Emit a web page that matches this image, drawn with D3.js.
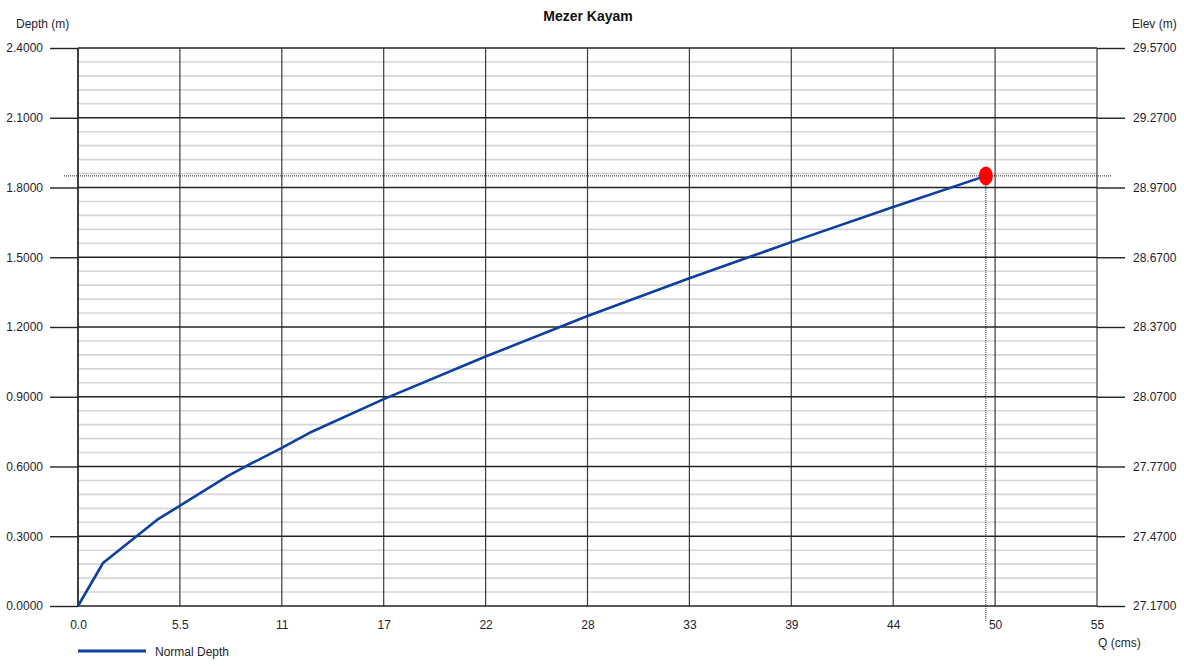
<!DOCTYPE html>
<html>
<head>
<meta charset="utf-8">
<script src="https://cdn.jsdelivr.net/npm/d3@7"></script>
<style>
  html, body { margin: 0; padding: 0; background: #fff; }
  svg { display: block; font-family: "Liberation Sans", Arial, sans-serif; }
</style>
</head>
<body>
<svg id="chart" width="1184" height="666"></svg>
<script>
// Rating curve: discharge Q (cms) vs. normal depth (m)
const flowQ     = [0, 1.35, 4.26, 8.1, 9.28, 11, 12.5, 16.5, 22, 27.5, 33, 38.5, 44, 49];
const normDepth = [0, 0.185, 0.37, 0.56, 0.61, 0.68, 0.745, 0.89, 1.073, 1.247, 1.41, 1.565, 1.716, 1.85];

// Current operating point
const pointQ = [49];
const pointDepth = [1.85];

// Axis tick values and labels
const xTickValues = [0, 5.5, 11, 16.5, 22, 27.5, 33, 38.5, 44, 49.5, 55];
const xTickLabels = ["0.0", "5.5", "11", "17", "22", "28", "33", "39", "44", "50", "55"];
const depthTicks  = [0, 0.3, 0.6, 0.9, 1.2, 1.5, 1.8, 2.1, 2.4];
const elevBase = 27.17;

(function draw() {
  const svg = d3.select("#chart");
  const pLeft = 78, pRight = 1097, pTop = 48, pBottom = 606;

  const x = d3.scaleLinear().domain([0, 55]).range([pLeft, pRight]);
  const y = d3.scaleLinear().domain([0, 2.4]).range([pBottom, pTop]);
  const yElev = d3.scaleLinear().domain([elevBase, elevBase + 2.4]).range([pBottom, pTop]);

  const textColor = "#1e1e2e";
  const font = "'Liberation Sans', Arial, sans-serif";

  // Minor horizontal grid
  const minor = d3.range(0, 2.4001, 0.06).filter(v => Math.abs(v / 0.3 - Math.round(v / 0.3)) > 1e-6);
  svg.append("g").selectAll("line").data(minor).join("line")
    .attr("x1", pLeft).attr("x2", pRight)
    .attr("y1", d => y(d)).attr("y2", d => y(d))
    .attr("stroke", "#d6d6d6").attr("stroke-width", 1.6);

  // Major vertical grid
  svg.append("g").selectAll("line").data(xTickValues).join("line")
    .attr("x1", d => x(d)).attr("x2", d => x(d))
    .attr("y1", pTop).attr("y2", pBottom)
    .attr("stroke", "#3a3a3a").attr("stroke-width", 1.2);

  // Left depth axis
  const yAxisL = d3.axisLeft(y).tickValues(depthTicks)
    .tickFormat(d3.format(".4f")).tickSize(pLeft - 50).tickPadding(7);
  const gL = svg.append("g").attr("transform", `translate(${pLeft},0)`).call(yAxisL);
  gL.select(".domain").remove();
  gL.selectAll(".tick line").attr("stroke", "#222").attr("stroke-width", 1.4);
  gL.selectAll(".tick text").attr("fill", textColor).style("font-size", "12px").style("font-family", font);

  // Major horizontal grid across the plot
  svg.append("g").selectAll("line").data(depthTicks).join("line")
    .attr("x1", pLeft).attr("x2", pRight)
    .attr("y1", d => y(d)).attr("y2", d => y(d))
    .attr("stroke", "#222").attr("stroke-width", 1.4);

  // Right elevation axis
  const elevTicks = depthTicks.map(d => elevBase + d);
  const yAxisR = d3.axisRight(yElev).tickValues(elevTicks)
    .tickFormat(d3.format(".4f")).tickSize(1125 - pRight).tickPadding(8);
  const gR = svg.append("g").attr("transform", `translate(${pRight},0)`).call(yAxisR);
  gR.select(".domain").remove();
  gR.selectAll(".tick line").attr("stroke", "#222").attr("stroke-width", 1.4);
  gR.selectAll(".tick text").attr("fill", textColor).style("font-size", "12px").style("font-family", font);

  // Bottom Q axis (labels only)
  const xAxis = d3.axisBottom(x).tickValues(xTickValues)
    .tickFormat((d, i) => xTickLabels[i]).tickSize(0).tickPadding(14);
  const gX = svg.append("g").attr("transform", `translate(0,${pBottom})`).call(xAxis);
  gX.select(".domain").remove();
  gX.selectAll(".tick text").attr("fill", textColor).style("font-size", "12px").style("font-family", font);

  // Left axis line
  svg.append("line").attr("x1", pLeft).attr("x2", pLeft).attr("y1", pTop).attr("y2", pBottom)
    .attr("stroke", "#222").attr("stroke-width", 1.4);

  // Dotted guide lines through the operating point
  svg.append("line")
    .attr("x1", 64).attr("x2", 1111)
    .attr("y1", y(pointDepth[0])).attr("y2", y(pointDepth[0]))
    .attr("stroke", "#222").attr("stroke-width", 1).attr("stroke-dasharray", "1,1");
  svg.append("line")
    .attr("x1", x(pointQ[0])).attr("x2", x(pointQ[0]))
    .attr("y1", y(pointDepth[0])).attr("y2", 621)
    .attr("stroke", "#222").attr("stroke-width", 1).attr("stroke-dasharray", "1,1");

  // Normal depth curve
  const pts = flowQ.map((q, i) => [q, normDepth[i]]);
  svg.append("path")
    .attr("d", d3.line().x(d => x(d[0])).y(d => y(d[1]))(pts))
    .attr("fill", "none").attr("stroke", "#0d3fa0").attr("stroke-width", 2.6)
    .attr("stroke-linejoin", "round");

  // Operating point marker
  svg.append("ellipse")
    .attr("cx", x(pointQ[0])).attr("cy", y(pointDepth[0]))
    .attr("rx", 7).attr("ry", 9.5).attr("fill", "#ff0000");

  // Titles
  svg.append("text").attr("x", 588).attr("y", 21).attr("text-anchor", "middle")
    .attr("fill", "#111").style("font-size", "14px").style("font-weight", "bold")
    .text("Mezer Kayam");
  svg.append("text").attr("x", 16).attr("y", 28).attr("fill", textColor)
    .style("font-size", "12px").text("Depth (m)");
  svg.append("text").attr("x", 1132).attr("y", 28).attr("fill", textColor)
    .style("font-size", "12px").text("Elev (m)");
  svg.append("text").attr("x", 1098).attr("y", 647).attr("fill", textColor)
    .style("font-size", "12px").text("Q (cms)");

  // Legend
  svg.append("line").attr("x1", 78).attr("x2", 146).attr("y1", 651).attr("y2", 651)
    .attr("stroke", "#0d3fa0").attr("stroke-width", 3);
  svg.append("text").attr("x", 155).attr("y", 655.5).attr("fill", textColor)
    .style("font-size", "12px").text("Normal Depth");
})();
</script>
</body>
</html>
